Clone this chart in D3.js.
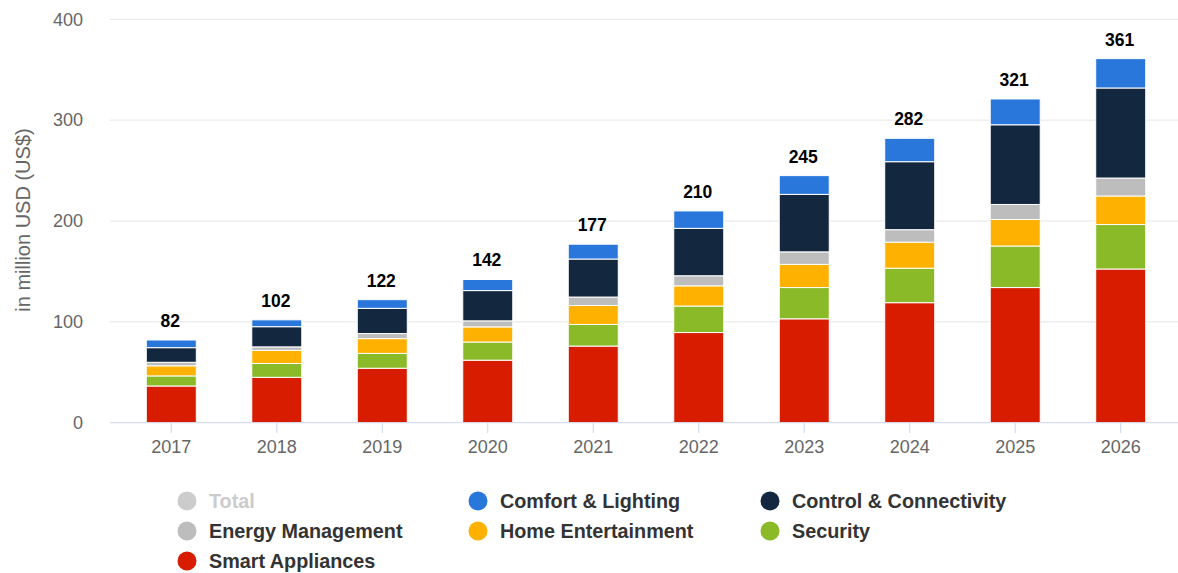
<!DOCTYPE html>
<html><head><meta charset="utf-8">
<script src="https://cdn.jsdelivr.net/npm/d3@7"></script>
<style>body{margin:0;background:#fff;font-family:"Liberation Sans",Arial,sans-serif}</style>
</head><body><svg id="c" width="1178" height="573"></svg>
<script>
const years = ["2017","2018","2019","2020","2021","2022","2023","2024","2025","2026"];
const smartAppliances = [36.4,45,54,62,76,89.4,103,119,134,152.4];
const security = [10,13.7,14.7,18,21.4,26.3,31,34.2,41.2,44.1];
const homeEntertainment = [10,13,14.7,15,18.8,20,23,25.8,26.3,28.3];
const energyManagement = [3.5,3.5,5,6,8.4,10,12.4,12.4,14.9,17.8];
const controlConnectivity = [14.5,20,25,30,37.7,47,57,67.4,79,89.3];
const comfortLighting = [7.6,6.8,8.6,11,14.7,17.3,18.6,23.2,25.6,29.1];
const totals = [82,102,122,142,177,210,245,282,321,361];
const yTicks = [0,100,200,300,400];

const series = [
  {name:"Smart Appliances", values:smartAppliances, color:"#d71c00"},
  {name:"Security", values:security, color:"#8aba27"},
  {name:"Home Entertainment", values:homeEntertainment, color:"#ffb100"},
  {name:"Energy Management", values:energyManagement, color:"#bdbdbd"},
  {name:"Control & Connectivity", values:controlConnectivity, color:"#13273f"},
  {name:"Comfort & Lighting", values:comfortLighting, color:"#2a77dc"}
];

const svg = d3.select("#c");
const x = d3.scaleBand().domain(years).range([112,1180]).paddingInner(0.526).paddingOuter(0.325);
const y = d3.scaleLinear().domain([0,400]).range([422.7,19.3]);

// gridlines
svg.append("g").selectAll("line").data(yTicks.filter(d=>d>0)).join("line")
  .attr("x1",110).attr("x2",1178).attr("y1",d=>y(d)).attr("y2",d=>y(d))
  .attr("stroke","#e6e6e6").attr("stroke-width",1);

// y labels
svg.append("g").selectAll("text").data(yTicks).join("text")
  .attr("x",83).attr("y",d=>y(d)).attr("dy","0.35em").attr("text-anchor","end")
  .attr("fill","#666").attr("font-size",18).text(d=>d);

svg.append("text").attr("transform","translate(30,220) rotate(-90)")
  .attr("text-anchor","middle").attr("fill","#666").attr("font-size",20)
  .text("in million USD (US$)");

// stack
const table = years.map((yr,i)=>{const o={year:yr}; series.forEach(s=>o[s.name]=s.values[i]); return o;});
const stack = d3.stack().keys(series.map(s=>s.name))(table);

svg.append("g").selectAll("g").data(stack).join("g")
  .attr("fill",(d,i)=>series[i].color)
  .selectAll("rect").data(d=>d).join("rect")
  .attr("x",d=>x(d.data.year)).attr("width",x.bandwidth())
  .attr("y",d=>y(d[1])).attr("height",d=>y(d[0])-y(d[1]))
  .attr("stroke","#fff").attr("stroke-width",1);

// x axis
svg.append("line").attr("x1",110).attr("x2",1178).attr("y1",422.7).attr("y2",422.7)
  .attr("stroke","#ccd6eb").attr("stroke-width",1);
svg.append("g").selectAll("line").data(years).join("line")
  .attr("x1",d=>x(d)+x.bandwidth()/2).attr("x2",d=>x(d)+x.bandwidth()/2)
  .attr("y1",422.7).attr("y2",433).attr("stroke","#ccd6eb");
svg.append("g").selectAll("text").data(years).join("text")
  .attr("x",d=>x(d)+x.bandwidth()/2).attr("y",453).attr("text-anchor","middle")
  .attr("fill","#666").attr("font-size",18).text(d=>d);

// totals
svg.append("g").selectAll("text").data(years).join("text")
  .attr("x",d=>x(d)+x.bandwidth()/2-1).attr("y",(d,i)=>y(totals[i])-13)
  .attr("text-anchor","middle").attr("fill","#000").attr("font-weight","bold")
  .attr("font-size",17.5).text((d,i)=>totals[i]);

// legend
const legend = [
  {name:"Total", color:"#cccccc", text:"#cccccc"},
  {name:"Comfort & Lighting", color:"#2a77dc", text:"#333"},
  {name:"Control & Connectivity", color:"#13273f", text:"#333"},
  {name:"Energy Management", color:"#bdbdbd", text:"#333"},
  {name:"Home Entertainment", color:"#ffb100", text:"#333"},
  {name:"Security", color:"#8aba27", text:"#333"},
  {name:"Smart Appliances", color:"#d71c00", text:"#333"}
];
const colX = [187,478,770];
const lg = svg.append("g").selectAll("g").data(legend).join("g")
  .attr("transform",(d,i)=>`translate(${colX[i%3]},${501+Math.floor(i/3)*30})`);
lg.append("circle").attr("r",9.5).attr("fill",d=>d.color);
lg.append("text").attr("x",22).attr("dy","0.36em").attr("font-size",19.8).attr("font-weight","bold")
  .attr("fill",d=>d.text).text(d=>d.name);
</script></body></html>
